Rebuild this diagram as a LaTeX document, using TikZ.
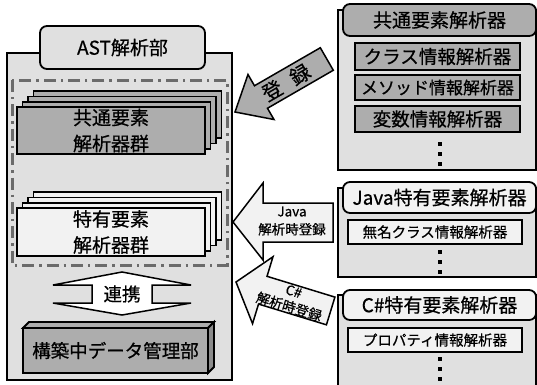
\documentclass[tikz,border=0pt]{standalone}
\usepackage{fontspec}
\setmainfont[FakeBold=0.6,AutoFakeBold=0.6]{Noto Sans CJK JP}
\definecolor{lgray}{gray}{0.88}
\definecolor{dgray}{gray}{0.68}
\definecolor{ddgray}{gray}{0.55}
\definecolor{wgray}{gray}{0.95}
\definecolor{dashc}{gray}{0.42}
\newcommand\fXL{\fontsize{19}{26}\selectfont\bfseries}
\newcommand\fL{\fontsize{18.5}{22}\selectfont\bfseries}
\newcommand\fLs{\fontsize{17}{22}\selectfont\bfseries}
\newcommand\fM{\fontsize{14.5}{18}\selectfont\bfseries}
\newcommand\fS{\fontsize{13.5}{18}\selectfont\bfseries}
\tikzset{
  bx/.style={draw=black, line width=1.8pt},
  tabbox/.style={bx, rounded corners=7pt, inner sep=0pt},
  inbox/.style={bx, inner sep=0pt},
  stackbox/.style={bx, inner sep=0pt, minimum width=188pt, minimum height=47pt, align=center, font=\fXL},
  dashdotline/.style={draw=dashc, line width=3pt, dash pattern=on 12pt off 5pt on 2.4pt off 5pt},
  blockarrow/.style={draw=black, line width=1.5pt, line join=miter},
  dotsq/.style={fill=black, minimum size=3.4pt, inner sep=0pt},
}
\begin{document}
\begin{tikzpicture}[x=1pt,y=-1pt]
\useasboundingbox (0,0) rectangle (537,384);
\clip (0,0) rectangle (537,384);

% ---------- left: AST analysis part ----------
\draw[bx, fill=lgray] (7,53) rectangle (232,380);
\node[tabbox, fill=lgray, minimum width=165pt, minimum height=43pt, font=\fXL] (ast) at (122.5,47.5) {AST解析部};
\draw[dashdotline] (12,80) rectangle (227,265);

% common analyzer stack
\foreach \k in {3,2,1}
  \draw[bx, fill=dgray] ({17+5.5*\k},{107-5.3*\k}) rectangle ({205+5.5*\k},{154-5.3*\k});
\node[stackbox, fill=dgray] (common) at (111,130.5) {共通要素\\解析器群};

% specific analyzer stack
\foreach \k in {3,2,1}
  \draw[bx, fill=wgray] ({17+5.5*\k},{208-5.3*\k}) rectangle ({205+5.5*\k},{256-5.3*\k});
\node[stackbox, fill=wgray, minimum height=48pt] (special) at (111,232) {特有要素\\解析器群};

% cooperation double arrow
\draw[blockarrow, fill=white] (122,272) -- (191,285) -- (152,285) -- (152,303) -- (191,303)
  -- (122,315) -- (53,303) -- (92,303) -- (92,285) -- (53,285) -- cycle;
\node[font=\fL, inner sep=0pt] (coop) at (122,294) {連携};

% data management part (cuboid)
\draw[bx, fill=dgray] (23,328) -- (29,322) -- (214,322) -- (208,328) -- cycle;
\draw[bx, fill=ddgray] (208,328) -- (214,322) -- (214,367) -- (208,373) -- cycle;
\node[inbox, fill=dgray, minimum width=185pt, minimum height=45pt, font=\fL] (dm) at (115.5,350.5) {構築中データ管理部};

% ---------- right: common element analyzer ----------
\draw[bx, fill=lgray] (338,10) rectangle (536.1,170);
\node[tabbox, fill=dgray, minimum width=193.1pt, minimum height=32pt, font=\fXL] (ctab) at (439.55,20) {共通要素解析器};
\node[inbox, fill=dgray, minimum width=165pt, minimum height=27pt, font=\fL] (c1) at (437.5,56.5) {クラス情報解析器};
\node[inbox, fill=dgray, minimum width=165pt, minimum height=25pt, font=\fLs] (c2) at (437.5,87.5) {メソッド情報解析器};
\node[inbox, fill=dgray, minimum width=165pt, minimum height=26pt, font=\fL] (c3) at (437.5,119) {変数情報解析器};
\node[dotsq] (cd1) at (440,144) {};
\node[dotsq] (cd2) at (440,154) {};
\node[dotsq] (cd3) at (440,164) {};

% ---------- right: Java specific ----------
\draw[bx, fill=lgray] (338,188) rectangle (536.1,277);
\node[tabbox, fill=wgray, minimum width=193.1pt, minimum height=31pt, font=\fXL] (jtab) at (439.55,197.5) {Java特有要素解析器};
\node[inbox, fill=wgray, minimum width=174pt, minimum height=24pt, font=\fM] (j1) at (435,232) {無名クラス情報解析器};
\node[dotsq] (jd1) at (440,252) {};
\node[dotsq] (jd2) at (440,262) {};
\node[dotsq] (jd3) at (440,272) {};

% ---------- right: C# specific ----------
\draw[bx, fill=lgray] (338,390) -- (338,295) -- (536.1,295) -- (536.1,390);
\node[tabbox, fill=wgray, minimum width=193.1pt, minimum height=30pt, font=\fXL] (stab) at (439.55,305) {C\#特有要素解析器};
\node[inbox, fill=wgray, minimum width=174pt, minimum height=24pt, font=\fM] (s1) at (435,340) {プロパティ情報解析器};
\node[dotsq] (sd1) at (440,359) {};
\node[dotsq] (sd2) at (440,369) {};
\node[dotsq] (sd3) at (440,379) {};

% ---------- block arrows ----------
% registration (common)
\begin{scope}[shift={(235,112)}, rotate=30]
  \draw[blockarrow, fill=dgray] (0,0) -- (30,-26) -- (30,-13) -- (106,-13) -- (106,13) -- (30,13) -- (30,26) -- cycle;
  \node[font=\fontsize{20}{22}\selectfont\bfseries, transform shape, inner sep=0pt] (reg) at (59,0) {登\hspace{0.6em}録};
\end{scope}

% Java registration
\draw[blockarrow, fill=wgray] (233,222) -- (263,183) -- (263,203) -- (333,203) -- (333,242) -- (263,242) -- (263,260) -- cycle;
\node[font=\fS, align=center, inner sep=0pt] (jreg) at (292,221) {Java\\解析時登録};

% C# registration
\begin{scope}[shift={(236,282)}, rotate=-17]
  \draw[blockarrow, fill=wgray] (0,0) -- (28,-35) -- (28,-14.5) -- (99,-14.5) -- (99,14.5) -- (28,14.5) -- (28,35) -- cycle;
  \node[font=\fS, inner sep=0pt, transform shape] (sregA) at (58,-8) {C\#};
  \node[font=\fS, inner sep=0pt, transform shape] (sregB) at (58,8) {解析時登録};
\end{scope}
\end{tikzpicture}
\end{document}
